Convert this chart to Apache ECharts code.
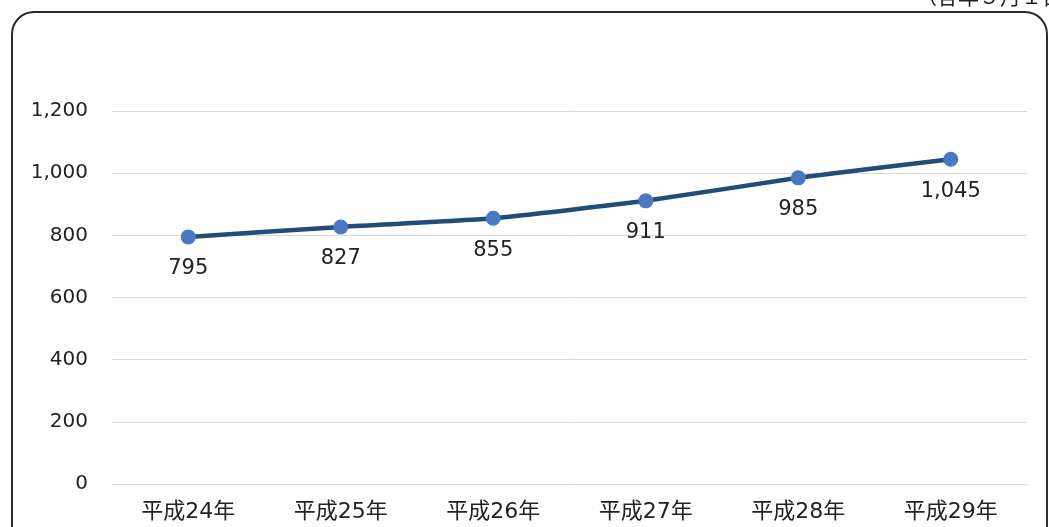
<!DOCTYPE html>
<html>
<head>
<meta charset="utf-8">
<script src="https://cdn.jsdelivr.net/npm/echarts@6/dist/echarts.min.js"></script>
<style>
  html, body { margin: 0; padding: 0; background: #fff; }
  #chart { width: 1049px; height: 527px; }
</style>
</head>
<body>
<div id="chart"></div>
<script>
// 年度と値
const categories = ['平成24年', '平成25年', '平成26年', '平成27年', '平成28年', '平成29年'];
const values = [795, 827, 855, 911, 985, 1045];
const yTicks = [0, 200, 400, 600, 800, 1000, 1200];

const myChart = echarts.init(document.getElementById('chart'));
const font = '"DejaVu Sans", "Noto Sans CJK JP", sans-serif';

const option = {
    animation: false,
    textStyle: { fontFamily: font },
    grid: { left: 112, right: 22, top: 111, bottom: 43 },
    graphic: [
        {
            type: 'rect',
            shape: { x: 12, y: 12, width: 1035, height: 540, r: 22 },
            style: { fill: 'none', stroke: '#2b2b2b', lineWidth: 2 }
        },
        {
            type: 'text',
            left: 916, top: -14,
            style: { text: '（各年５月１日現在）', font: '21px "Noto Sans CJK JP"', fill: '#222' }
        }
    ],
    xAxis: {
        type: 'category',
        data: categories,
        boundaryGap: true,
        axisLine: { lineStyle: { color: '#d9d9d9', width: 1 } },
        axisTick: { show: false },
        axisLabel: { color: '#222', fontSize: 22, margin: 17, fontFamily: font }
    },
    yAxis: {
        type: 'value',
        min: yTicks[0],
        max: yTicks[yTicks.length - 1],
        interval: 200,
        axisLine: { show: false },
        axisTick: { show: false },
        splitLine: { lineStyle: { color: '#d9d9d9', width: 1 } },
        axisLabel: {
            color: '#222', fontSize: 20, margin: 24, fontFamily: font,
            formatter: v => v.toLocaleString('en-US')
        }
    },
    series: [
        {
            type: 'line',
            data: values,
            smooth: 0.15,
            symbol: 'circle',
            symbolSize: 15,
            lineStyle: { color: '#1f4e79', width: 4.5 },
            itemStyle: { color: '#4a78c2' },
            label: {
                show: true,
                position: 'bottom',
                distance: 14,
                color: '#222',
                fontSize: 21,
                fontFamily: font,
                formatter: p => p.value.toLocaleString('en-US')
            }
        }
    ]
};
myChart.setOption(option);
</script>
</body>
</html>
